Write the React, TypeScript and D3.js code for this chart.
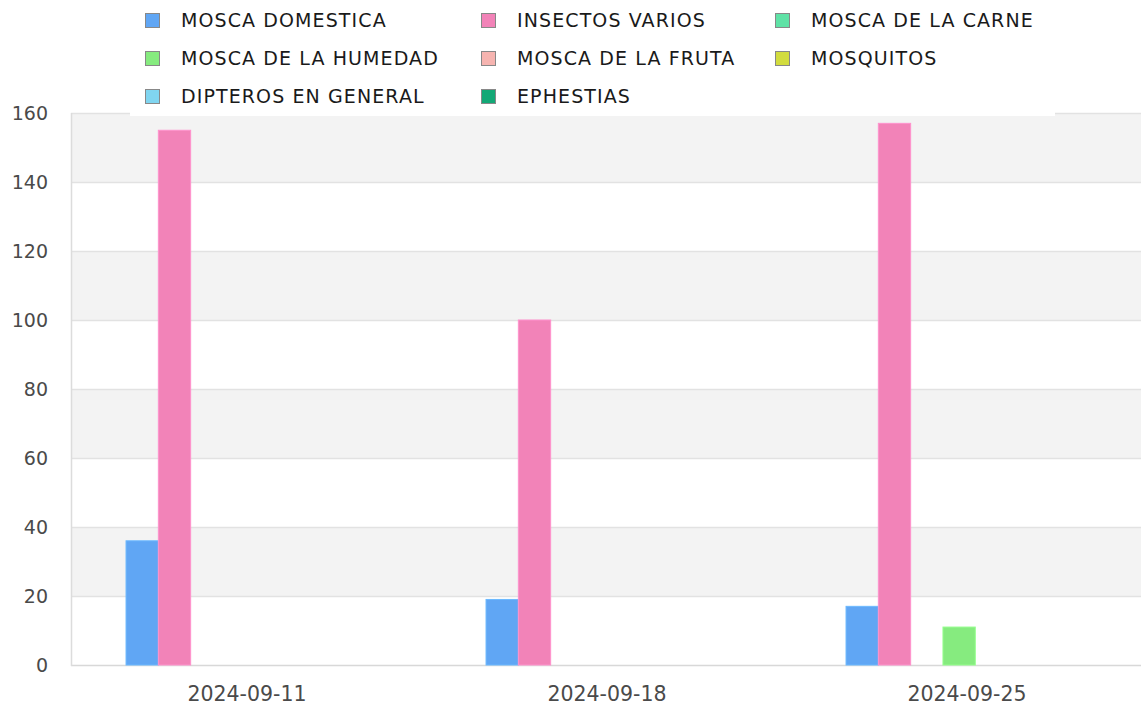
import { useEffect, useRef } from 'react';
import * as d3 from 'd3';

const dates = ['2024-09-11', '2024-09-18', '2024-09-25'];
const seriesNames = [
  'MOSCA DOMESTICA',
  'INSECTOS VARIOS',
  'MOSCA DE LA CARNE',
  'MOSCA DE LA HUMEDAD',
  'MOSCA DE LA FRUTA',
  'MOSQUITOS',
  'DIPTEROS EN GENERAL',
  'EPHESTIAS',
];
const moscaDomestica = [36, 19, 17];
const insectosVarios = [155, 100, 157];
const moscaCarne = [0, 0, 0];
const moscaHumedad = [0, 0, 11];
const moscaFruta = [0, 0, 0];
const mosquitos = [0, 0, 0];
const dipteros = [0, 0, 0];
const ephestias = [0, 0, 0];
const yTicks = [0, 20, 40, 60, 80, 100, 120, 140, 160];

const seriesValues = [
  moscaDomestica,
  insectosVarios,
  moscaCarne,
  moscaHumedad,
  moscaFruta,
  mosquitos,
  dipteros,
  ephestias,
];
const colors = ['#60a6f4', '#f283b8', '#5fe2a6', '#86eb7f', '#f6b4b0', '#d2dc3e', '#80d5f0', '#13a876'];

const W = 1141;
const H = 706;
const FONT = '"DejaVu Sans", sans-serif';

const App = () => {
  const ref = useRef<SVGSVGElement | null>(null);

  useEffect(() => {
    if (!ref.current) return;
    const svg = d3.select(ref.current);
    svg.selectAll('*').remove();

    const left = 71;
    const top = 113;
    const bottom = 665;

    const y = d3.scaleLinear().domain([0, 160]).range([bottom, top]);
    const x0 = d3.scaleBand().domain(dates).range([67, 67 + 3 * 360]);
    const bw = x0.bandwidth();
    const x1 = d3
      .scaleBand()
      .domain(seriesNames)
      .range([bw * 0.164, bw * 0.882]);

    // alternating bands
    const bands = yTicks.slice(0, -1).map((t, i) => ({ lo: t, hi: yTicks[i + 1], i }));
    svg
      .append('g')
      .selectAll('rect')
      .data(bands)
      .enter()
      .append('rect')
      .attr('x', left)
      .attr('width', W - left)
      .attr('y', (d) => y(d.hi))
      .attr('height', (d) => y(d.lo) - y(d.hi))
      .attr('fill', (d) => (d.i % 2 === 1 ? '#f3f3f3' : '#ffffff'));

    svg
      .append('g')
      .selectAll('line')
      .data(yTicks)
      .enter()
      .append('line')
      .attr('x1', left)
      .attr('x2', W)
      .attr('y1', (d) => y(d) + 0.5)
      .attr('y2', (d) => y(d) + 0.5)
      .attr('stroke', (d) => (d === 0 ? '#d8d8d8' : '#e2e2e2'))
      .attr('stroke-width', 1.5);

    svg
      .append('line')
      .attr('x1', left + 0.5)
      .attr('x2', left + 0.5)
      .attr('y1', top)
      .attr('y2', bottom + 1)
      .attr('stroke', '#dcdcdc')
      .attr('stroke-width', 1.5);

    // y labels
    svg
      .append('g')
      .selectAll('text')
      .data(yTicks)
      .enter()
      .append('text')
      .attr('x', 48)
      .attr('y', (d) => y(d) + 7)
      .attr('text-anchor', 'end')
      .attr('font-family', FONT)
      .attr('font-size', 19)
      .attr('fill', '#4a4a4a')
      .text((d) => d);

    // x labels
    svg
      .append('g')
      .selectAll('text')
      .data(dates)
      .enter()
      .append('text')
      .attr('x', (d) => (x0(d) ?? 0) + bw / 2)
      .attr('y', 701)
      .attr('text-anchor', 'middle')
      .attr('font-family', FONT)
      .attr('font-size', 20.5)
      .attr('fill', '#4a4a4a')
      .text((d) => d);

    // bars
    const cells = dates.flatMap((date, di) =>
      seriesNames.map((name, si) => ({ date, name, si, value: seriesValues[si][di] }))
    );
    svg
      .append('g')
      .selectAll('rect')
      .data(cells.filter((c) => c.value > 0))
      .enter()
      .append('rect')
      .attr('x', (c) => (x0(c.date) ?? 0) + (x1(c.name) ?? 0))
      .attr('y', (c) => y(c.value))
      .attr('width', x1.bandwidth())
      .attr('height', (c) => y(0) - y(c.value))
      .attr('fill', (c) => colors[c.si])
      .attr('stroke', (c) => d3.color(colors[c.si])?.brighter(0.3).formatHex() ?? colors[c.si])
      .attr('stroke-width', 1);

    // legend
    svg
      .append('rect')
      .attr('x', 130)
      .attr('y', 0)
      .attr('width', 1055 - 130)
      .attr('height', 116)
      .attr('fill', '#ffffff');

    const colX = [145, 481, 775];
    const rowY = [20, 58, 96];
    const legend = svg
      .append('g')
      .selectAll('g')
      .data(seriesNames)
      .enter()
      .append('g')
      .attr('transform', (_, i) => `translate(${colX[i % 3]},${rowY[Math.floor(i / 3)]})`);
    legend
      .append('rect')
      .attr('x', 0.5)
      .attr('y', -6.5)
      .attr('width', 14)
      .attr('height', 14)
      .attr('fill', (_, i) => colors[i])
      .attr('stroke', '#888')
      .attr('stroke-width', 1);
    legend
      .append('text')
      .attr('x', 36)
      .attr('y', 7)
      .attr('font-family', FONT)
      .attr('font-size', 19)
      .attr('letter-spacing', 1.1)
      .attr('fill', '#1a1a1a')
      .text((d) => d);
  }, []);

  return (
    <div style={{ position: 'absolute', left: 0, top: 0, width: W, height: H }}>
      <svg ref={ref} width={W} height={H} style={{ display: 'block' }} role="img" aria-label="Insect counts" />
    </div>
  );
};

export default App;
